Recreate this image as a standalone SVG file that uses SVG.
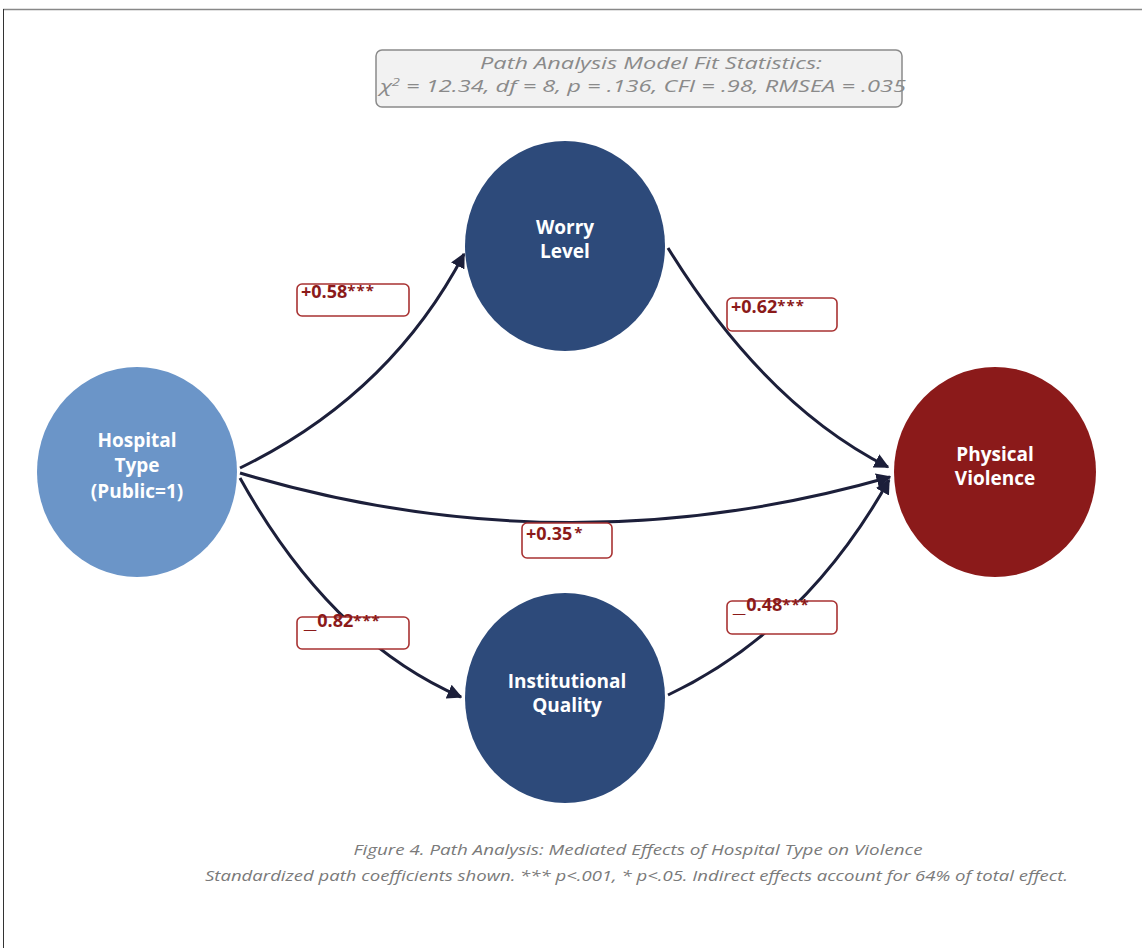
<svg xmlns="http://www.w3.org/2000/svg" width="1142" height="948" viewBox="0 0 1142 948">
<style>
.nt{font-family:"Open Sans","Liberation Sans",sans-serif;font-weight:bold;font-size:19px;fill:#fff;text-anchor:middle}
.lb{fill:#fff;stroke:#a83232;stroke-width:1.6}
.lt{font-family:"Open Sans","Liberation Sans",sans-serif;font-weight:bold;font-size:18px;fill:#8b1a1a}
.lt tspan.s{font-size:15px;letter-spacing:1px}
.lt tspan.u{font-family:"Liberation Sans",sans-serif;font-size:22px}
.cn{fill:none;stroke:#1c1f3a;stroke-width:3}
.fit{font-family:"Open Sans","Liberation Sans",sans-serif;font-style:italic;font-size:16px;fill:#8a8a8a}
.cap{font-family:"Open Sans","Liberation Sans",sans-serif;font-style:italic;font-size:14px;fill:#7a7a7a}
</style>
<defs>
<marker id="ah" viewBox="0 0 10 10" refX="9" refY="5" markerWidth="5" markerHeight="5" orient="auto" markerUnits="strokeWidth">
<path d="M0,0 L10,5 L0,10 z" fill="#1c1f3a"/>
</marker>
</defs>
<rect width="1142" height="948" fill="#fff"/>
<line x1="3" y1="9.5" x2="1142" y2="9.5" stroke="#888" stroke-width="1.5"/>
<line x1="3.5" y1="9" x2="3.5" y2="948" stroke="#333" stroke-width="1"/>

<g id="fit">
<rect x="376" y="50" width="526" height="57" rx="6" fill="#f2f2f2" stroke="#8a8a8a" stroke-width="1.5"/>
<text class="fit" x="480" y="69" textLength="342" lengthAdjust="spacingAndGlyphs" font-size="17">Path Analysis Model Fit Statistics:</text>
<text class="fit" x="380" y="92" textLength="526" lengthAdjust="spacingAndGlyphs">χ<tspan dy="-6" font-size="10">2</tspan><tspan dy="6"> = 12.34, df = 8, p = .136, CFI = .98, RMSEA = .035</tspan></text>
</g>

<g id="connectors">
<path class="cn" d="M240,468 Q390,395 464,254" marker-end="url(#ah)"/>
<path class="cn" d="M668,248 Q765,405 888,467" marker-end="url(#ah)"/>
<path class="cn" d="M240,473 Q565,570 890,477" marker-end="url(#ah)"/>
<path class="cn" d="M240,478 Q330,640 461,697" marker-end="url(#ah)"/>
<path class="cn" d="M668,695 Q805,630 889,480" marker-end="url(#ah)"/>
</g>

<g id="node-hospital">
<ellipse cx="137" cy="472" rx="100" ry="105" fill="#6b95c8"/>
<text class="nt" x="137" y="447">Hospital</text>
<text class="nt" x="137" y="472">Type</text>
<text class="nt" x="137" y="498">(Public=1)</text>
</g>
<g id="node-worry">
<ellipse cx="565" cy="246" rx="100" ry="105" fill="#2d4a7a"/>
<text class="nt" x="565" y="234">Worry</text>
<text class="nt" x="565" y="258">Level</text>
</g>
<g id="node-violence">
<ellipse cx="995" cy="472" rx="101" ry="105" fill="#8b1a1a"/>
<text class="nt" x="995" y="461">Physical</text>
<text class="nt" x="995" y="485">Violence</text>
</g>
<g id="node-quality">
<ellipse cx="565" cy="698" rx="100" ry="105" fill="#2d4a7a"/>
<text class="nt" x="567" y="688">Institutional</text>
<text class="nt" x="567" y="712">Quality</text>
</g>

<g id="label-058">
<rect class="lb" x="297" y="284" width="112" height="32" rx="5"/>
<text class="lt" x="301" y="298">+0.58<tspan class="s" dy="-2">***</tspan></text>
</g>
<g id="label-062">
<rect class="lb" x="727" y="298" width="110" height="33" rx="5"/>
<text class="lt" x="731" y="313">+0.62<tspan class="s" dy="-2">***</tspan></text>
</g>
<g id="label-035">
<rect class="lb" x="522" y="523" width="90" height="35" rx="5"/>
<text class="lt" x="526" y="540">+0.35<tspan class="s" dy="-2" dx="2">*</tspan></text>
</g>
<g id="label-082">
<rect class="lb" x="297" y="617" width="112" height="32" rx="5"/>
<text class="lt" x="304" y="628"><tspan class="u">_</tspan><tspan dy="-1" dx="1">0.82</tspan><tspan class="s" dy="-1">***</tspan></text>
</g>
<g id="label-048">
<rect class="lb" x="727" y="601" width="110" height="33" rx="5"/>
<text class="lt" x="733" y="612"><tspan class="u">_</tspan><tspan dy="-1" dx="1">0.48</tspan><tspan class="s" dy="-1">***</tspan></text>
</g>

<g id="caption">
<text class="cap" x="638" y="855" text-anchor="middle" textLength="569" lengthAdjust="spacingAndGlyphs">Figure 4. Path Analysis: Mediated Effects of Hospital Type on Violence</text>
<text class="cap" x="205" y="881" textLength="863" lengthAdjust="spacingAndGlyphs">Standardized path coefficients shown. *** p&lt;.001, * p&lt;.05. Indirect effects account for 64% of total effect.</text>
</g>
</svg>
